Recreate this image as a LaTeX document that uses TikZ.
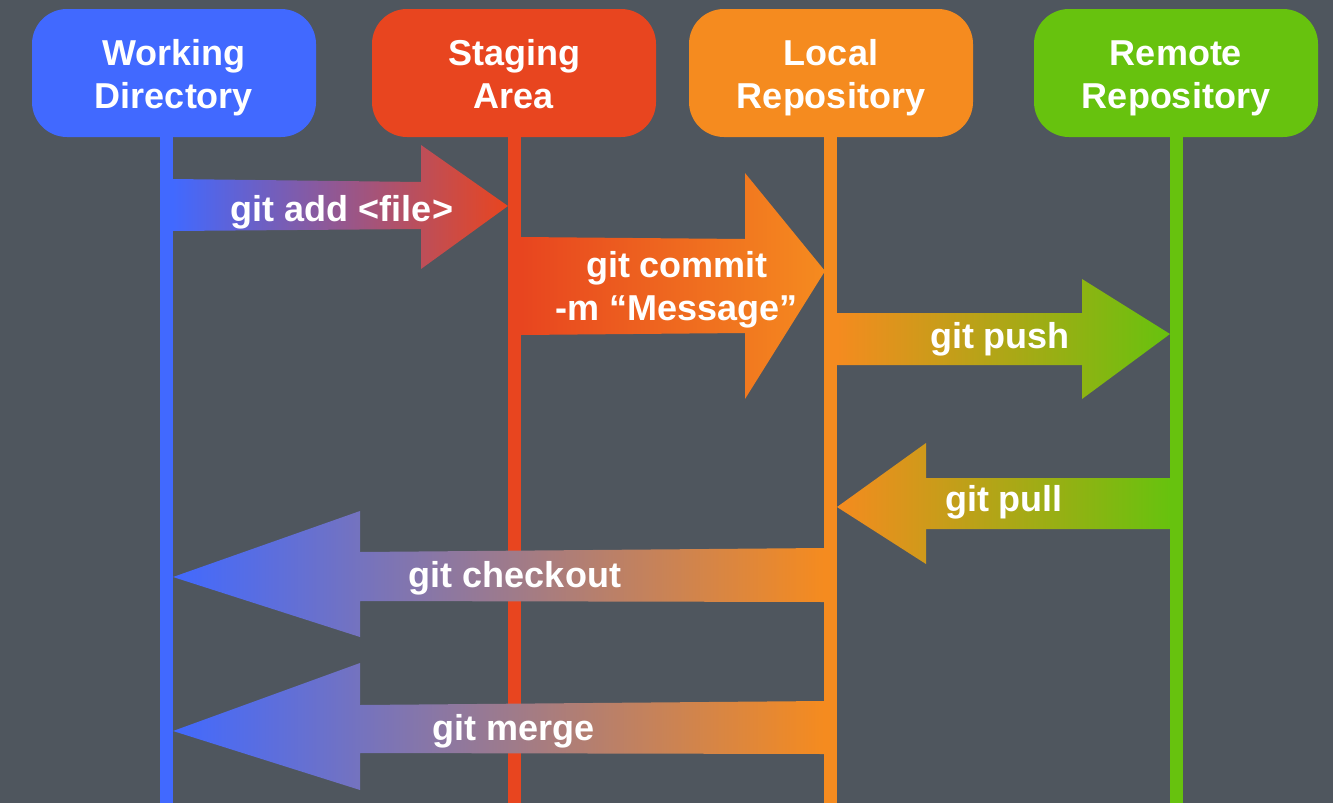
\documentclass[tikz,border=0pt]{standalone}
\usepackage{fontspec}
\setmainfont{Liberation Sans}
\usetikzlibrary{calc}

\definecolor{bggray}{HTML}{4F565E}
\definecolor{wdblue}{HTML}{4169FF}
\definecolor{sared}{HTML}{E8451F}
\definecolor{lrorange}{HTML}{F58B1F}
\definecolor{rrgreen}{HTML}{67C20E}

\tikzset{
  hdr/.style = {rectangle, rounded corners=35pt, minimum width=284pt,
    minimum height=128pt, inner sep=0pt, text=white, align=center,
    font=\bfseries\fontsize{36}{43}\selectfont,
    execute at end node=\rule[-8pt]{0pt}{8pt}},
  lifeline/.style = {line width=13pt},
  cmd/.style = {text=white, inner sep=0pt,
    font=\bfseries\fontsize{36}{43}\selectfont},
}

\begin{document}
\begin{tikzpicture}[x=1pt, y=-1pt]
  \fill[bggray] (0,0) rectangle (1333,803);
  \useasboundingbox (0,0) rectangle (1333,803);

  % heads of the four areas
  \node[hdr, fill=wdblue] (wd) at (174,73) {\rule{0pt}{35pt}Working\\Directory};
  \node[hdr, fill=sared] (sa) at (514,73) {\rule{0pt}{35pt}Staging\\Area};
  \node[hdr, fill=lrorange] (lr) at (831,73) {\rule{0pt}{35pt}Local\\Repository};
  \node[hdr, fill=rrgreen] (rr) at (1176,73) {\rule{0pt}{35pt}Remote\\Repository};

  \coordinate (wdend) at (166.5,803);
  \coordinate (saend) at (514.5,803);
  \coordinate (lrend) at (830.5,803);
  \coordinate (rrend) at (1176.5,803);

  \draw[lifeline, wdblue] (wdend |- wd.south) -- (wdend);
  \draw[lifeline, sared] (saend |- sa.south) -- (saend);
  \draw[lifeline, lrorange] (lrend |- lr.south) -- (lrend);
  \draw[lifeline, rrgreen] (rrend |- rr.south) -- (rrend);

  % ends of the block arrows on the lines
  \coordinate (addtail) at (173,205);
  \coordinate (addtip) at (508,206);
  \coordinate (committail) at (521,286);
  \coordinate (committip) at (825,271);
  \coordinate (pushtail) at (837,339);
  \coordinate (pushtip) at (1170,334);
  \coordinate (pulltail) at (1170,503);
  \coordinate (pulltip) at (837,507);
  \coordinate (cotail) at (824,575);
  \coordinate (cotip) at (173,577);
  \coordinate (mergetail) at (824,728);
  \coordinate (mergetip) at (173,731);

  \shade[left color=wdblue, right color=sared]
    (addtail) ++(0,-26) -- ++(248,3) -- ++(0,-37) -- (addtip)
    -- ++(-87,63) -- ++(0,-40) -- ++(-248,2) -- cycle;
  \shade[left color=sared, right color=lrorange]
    (committail) ++(0,-49) -- ++(224,2) -- ++(0,-66) -- (committip)
    -- ++(-80,128) -- ++(0,-66) -- ++(-224,2) -- cycle;
  \shade[left color=lrorange, right color=rrgreen]
    (pushtail) ++(0,-26) -- ++(245,0) -- ++(0,-34) -- (pushtip)
    -- ++(-88,65) -- ++(0,-34) -- ++(-245,0) -- cycle;
  \shade[left color=lrorange, right color=rrgreen]
    (pulltail) ++(0,-25) -- ++(-244,0) -- ++(0,-35) -- (pulltip)
    -- ++(89,57) -- ++(0,-35) -- ++(244,0) -- cycle;
  \shade[left color=wdblue, right color=lrorange]
    (cotail) ++(0,-27) -- ++(-464,4) -- ++(0,-41) -- (cotip)
    -- ++(187,60) -- ++(0,-36) -- ++(464,1) -- cycle;
  \shade[left color=wdblue, right color=lrorange]
    (mergetail) ++(0,-27) -- ++(-464,4) -- ++(0,-42) -- (mergetip)
    -- ++(187,59) -- ++(0,-37) -- ++(464,1) -- cycle;

  % commands
  \node[cmd, anchor=base] (addlbl) at (342,221) {git add <file>};
  \node[cmd, align=center] (commitlbl) at (677,290) {git commit\\-m “Message”};
  \node[cmd, anchor=base] (pushlbl) at (1000,348) {git push};
  \node[cmd, anchor=base] (pulllbl) at (1004,511) {git pull};
  \node[cmd, anchor=base] (colbl) at (515,587) {git checkout};
  \node[cmd, anchor=base] (mergelbl) at (514,740) {git merge};
\end{tikzpicture}
\end{document}
